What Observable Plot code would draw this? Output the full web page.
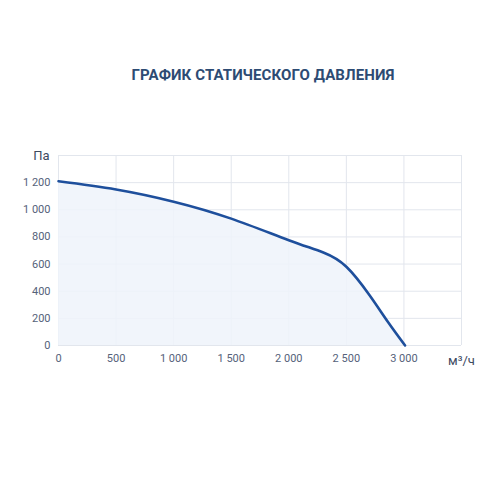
<!DOCTYPE html>
<html><head><meta charset="utf-8">
<script src="https://cdn.jsdelivr.net/npm/d3@7"></script>
<script src="https://cdn.jsdelivr.net/npm/@observablehq/plot@0.6"></script>
<style>
body{margin:0;background:#fff;font-family:Roboto,"Open Sans",sans-serif;}
#wrap{width:500px;height:500px;position:relative;}
#title{position:absolute;top:66px;left:0;width:526px;text-align:center;font:bold 15px Roboto,sans-serif;color:#2d4b73;letter-spacing:0.1px;}
#chart{position:absolute;top:130px;left:0;}
</style></head>
<body><div id="wrap"><div id="title">ГРАФИК СТАТИЧЕСКОГО ДАВЛЕНИЯ</div><div id="chart"></div></div>
<script>
const flow = [0, 500, 1000, 1500, 2000, 2300, 2500, 2700, 2860, 3010];
const pressure = [1210, 1150, 1060, 935, 776, 685, 580, 372, 175, 0];
const xTicks = [0, 500, 1000, 1500, 2000, 2500, 3000, 3500];
const yTicks = [0, 200, 400, 600, 800, 1000, 1200, 1400];
const xLabelTicks = [0, 500, 1000, 1500, 2000, 2500, 3000];
const yLabelTicks = [0, 200, 400, 600, 800, 1000, 1200];
const yUnit = "Па";
const xUnit = "м³/ч";

const data = flow.map((f, i) => ({f, p: pressure[i]}));
const fmt = d => d3.format(",")(d).replace(/,/g, " ");
const grid = "#e2e6ed";
const chart = Plot.plot({
  width: 500, height: 260,
  marginLeft: 58, marginRight: 39, marginTop: 25, marginBottom: 45,
  style: {fontFamily: "Roboto, sans-serif", fontSize: "11px", color: "#55627a", background: "transparent"},
  x: {domain: [0, 3500]},
  y: {domain: [0, 1400]},
  marks: [
    Plot.ruleX(xTicks, {stroke: grid, strokeWidth: 1}),
    Plot.ruleY(yTicks, {stroke: grid, strokeWidth: 1}),
    Plot.areaY(data, {x: "f", y: "p", curve: "natural", fill: "#eef3fa", fillOpacity: 0.85}),
    Plot.lineY(data, {x: "f", y: "p", curve: "natural", stroke: "#1e4f9c", strokeWidth: 2.6}),
    Plot.axisX(xLabelTicks, {tickSize: 0, tickPadding: 9, tickFormat: fmt, label: null, fontSize: 11}),
    Plot.axisY(yLabelTicks, {tickSize: 0, tickPadding: 8, tickFormat: fmt, label: null, fontSize: 11}),
    Plot.text([yUnit], {frameAnchor: "top-left", dx: -17, dy: 0, lineAnchor: "middle", fontSize: 13, fill: "#3d4a5f", textAnchor: "middle"}),
    Plot.text([xUnit], {frameAnchor: "bottom-right", dx: 0, dy: 15, lineAnchor: "middle", fontSize: 13, fill: "#3d4a5f", textAnchor: "middle"})
  ]
});
document.getElementById("chart").append(chart);
</script></body></html>
